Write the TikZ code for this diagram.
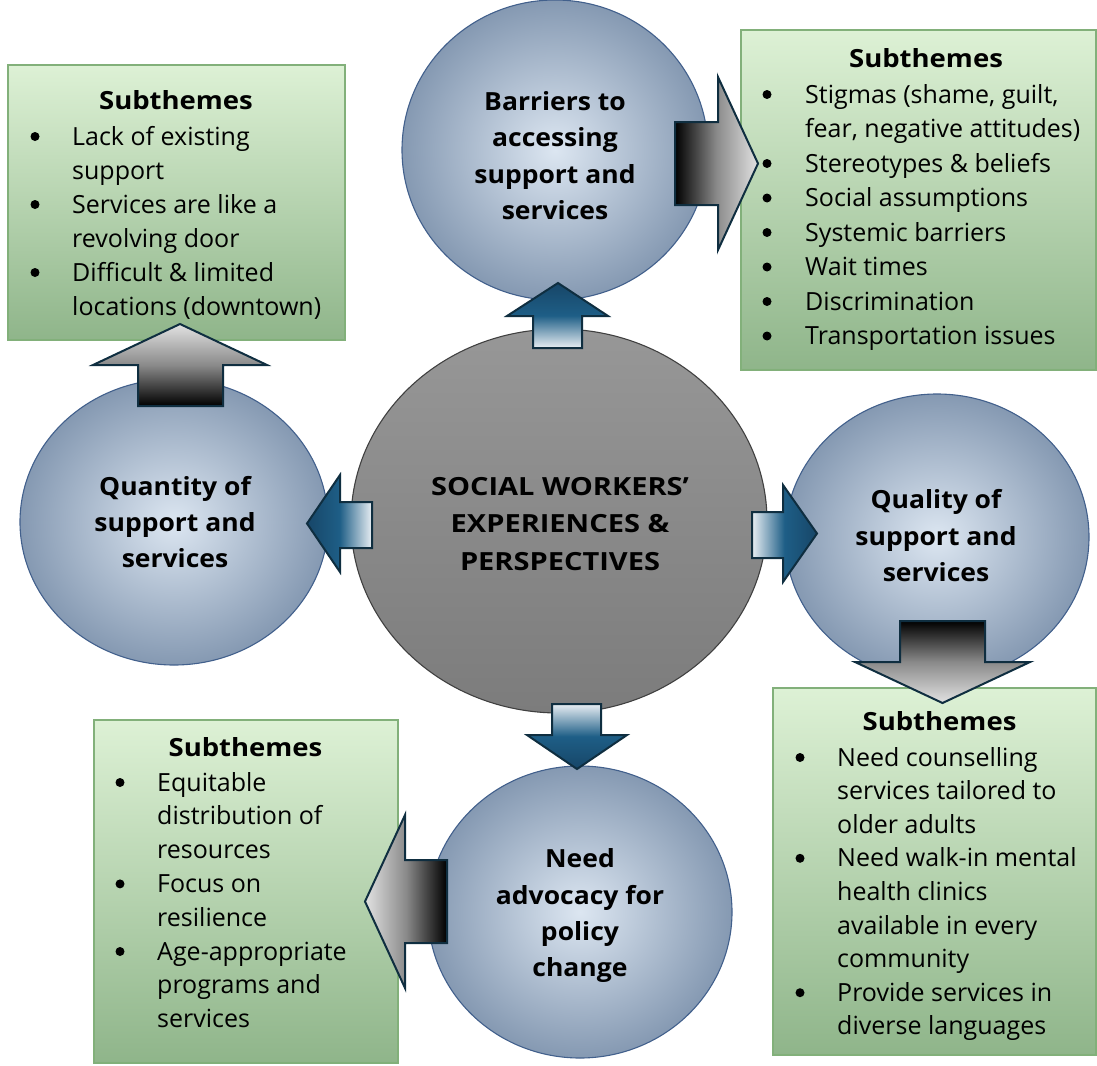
\documentclass[tikz,border=0pt]{standalone}
\usepackage{fontspec}
\setmainfont{Open Sans}
% slightly widened faces for the bold labels
\newfontfamily\headfont[FakeStretch=1.1]{Open Sans}
\newfontfamily\bubfont[FakeStretch=1.06]{Open Sans}
\newfontfamily\corefont[FakeStretch=1.16]{Open Sans}

% palette
\definecolor{boxtop}{HTML}{DDF1D5}
\definecolor{boxmid}{HTML}{C5DFBB}
\definecolor{boxbot}{HTML}{8FB58A}
\definecolor{boxline}{HTML}{82B07A}
\definecolor{bubin}{HTML}{DCE6F1}
\definecolor{bubout}{HTML}{8599B2}
\definecolor{bubline}{HTML}{42608C}
\definecolor{coretop}{HTML}{979797}
\definecolor{corebot}{HTML}{7C7C7C}
\definecolor{coreline}{HTML}{404040}
\definecolor{arrline}{HTML}{0F2E40}
\definecolor{bdark}{HTML}{174668}
\definecolor{bmid}{HTML}{1E5E86}
\definecolor{blight}{HTML}{E8EEF3}
\definecolor{glight}{HTML}{E2E2E2}
\definecolor{gmid}{HTML}{8A8A8A}

% block-arrow fills: dark end on the left, light end on the right
\pgfdeclarehorizontalshading{bluearrow}{100bp}{color(0bp)=(bdark); color(25bp)=(bdark); color(50bp)=(bmid); color(75bp)=(blight); color(100bp)=(blight)}
\pgfdeclarehorizontalshading{grayarrow}{100bp}{color(0bp)=(black); color(25bp)=(black); color(50bp)=(gmid); color(75bp)=(glight); color(100bp)=(glight)}

\newcommand\itemlines[4]{%
  \foreach \y/\b/\t [count=\i] in {#4} {
    \node[itemtext] (#1-\i) at (#3,\y) {\t};
    \ifnum\b=1 \node[bulletmark] (#1-m\i) at (#2,\y-8.5) {};\fi
  }}
\newcommand\centerlines[4]{%
  \foreach \y/\t [count=\i] in {#4} {
    \node[bubtext, font=#3] (#1-\i) at (#2,\y) {\t};
  }}

\begin{document}
\begin{tikzpicture}[x=1pt,y=-1pt,
  greenbox/.style={top color=boxtop, middle color=boxmid, bottom color=boxbot},
  bubble/.style={inner color=bubin, outer color=bubout, draw=bubline, line width=1.1pt},
  core/.style={top color=coretop, bottom color=corebot, draw=coreline, line width=1.1pt},
  bluearr/.style={shading=bluearrow, draw=arrline, line width=2pt, line join=miter},
  grayarr/.style={shading=grayarrow, draw=arrline, line width=2pt, line join=miter},
  itemtext/.style={font=\fontsize{25}{30}\selectfont, inner sep=0pt, anchor=base west},
  bulletmark/.style={circle, fill=black, inner sep=0pt, minimum size=9pt},
  headtext/.style={font=\fontsize{25}{30}\selectfont\headfont\bfseries, inner sep=0pt, anchor=base},
  bubtext/.style={inner sep=0pt, anchor=base}
]
\useasboundingbox (0,0) rectangle (1097,1065);

% subtheme panels
\shade[greenbox] (8,65) rectangle (345,340);
\shade[greenbox] (741,30) rectangle (1096,370);
\shade[greenbox] (773,688) rectangle (1096,1055);
\shade[greenbox] (94,720) rectangle (398,1063);
\draw[boxline, line width=1.5pt] (8,65) rectangle (345,340);
\draw[boxline, line width=1.5pt] (741,30) rectangle (1096,370);
\draw[boxline, line width=1.5pt] (773,688) rectangle (1096,1055);
\draw[boxline, line width=1.5pt] (94,720) rectangle (398,1063);

% theme bubbles
\shadedraw[bubble] (555,150) ellipse [x radius=153, y radius=150];
\shadedraw[bubble] (174,522) ellipse [x radius=154, y radius=143];
\shadedraw[bubble] (937,537) ellipse [x radius=152, y radius=143];
\shadedraw[bubble] (580,912) ellipse [x radius=152, y radius=146];
\shadedraw[core] (559,521) ellipse [x radius=208, y radius=192];

% arrows from the core to the themes
\shadedraw[bluearr, shading angle=-90] (533,348) -- (533,316) -- (507,316) -- (558,283) -- (608,316) -- (582,316) -- (582,348) -- cycle;
\shadedraw[bluearr, shading angle=0] (372,502) -- (340,502) -- (340,475) -- (307,523.5) -- (340,572) -- (340,548) -- (372,548) -- cycle;
\shadedraw[bluearr, shading angle=180] (752,512) -- (783,512) -- (783,485) -- (817,533.5) -- (783,582) -- (783,558) -- (752,558) -- cycle;
\shadedraw[bluearr, shading angle=90] (552,704) -- (601,704) -- (601,735) -- (627,735) -- (577,769) -- (527,735) -- (552,735) -- cycle;

% arrows from the themes to their subthemes
\shadedraw[grayarr, shading angle=0] (675,122) -- (718,122) -- (718,77) -- (758,163.5) -- (718,250) -- (718,205) -- (675,205) -- cycle;
\shadedraw[grayarr, shading angle=90] (138,406) -- (138,365) -- (93,365) -- (180,324) -- (267,365) -- (223,365) -- (223,406) -- cycle;
\shadedraw[grayarr, shading angle=-90] (900,621) -- (985,621) -- (985,662) -- (1030,662) -- (942.5,703) -- (855,662) -- (900,662) -- cycle;
\shadedraw[grayarr, shading angle=180] (447,860) -- (405,860) -- (405,815) -- (365,901.5) -- (405,988) -- (405,943) -- (447,943) -- cycle;

% bubble labels
\centerlines{top}{555}{\fontsize{25}{30}\selectfont\bubfont\bfseries}{110/Barriers to, 146.5/accessing, 183/support and, 219.5/services}
\centerlines{left}{175}{\fontsize{25}{30}\selectfont\bubfont\bfseries}{495/Quantity of, 531/support and, 567/services}
\centerlines{right}{936}{\fontsize{25}{30}\selectfont\bubfont\bfseries}{508/Quality of, 545/support and, 581/services}
\centerlines{bottom}{580}{\fontsize{25}{30}\selectfont\bubfont\bfseries}{867/Need, 904/advocacy for, 940/policy, 976/change}
\centerlines{core}{560}{\fontsize{25}{30}\selectfont\corefont\bfseries}{495/SOCIAL WORKERS’, 532.5/EXPERIENCES \&, 570/PERSPECTIVES}

% panel headings
\node[headtext] (tl-head) at (176,109) {Subthemes};
\node[headtext] (tr-head) at (926,67) {Subthemes};
\node[headtext] (br-head) at (939.5,730) {Subthemes};
\node[headtext] (bl-head) at (245.5,756) {Subthemes};

% panel items
\itemlines{tl}{35}{72}{145/1/Lack of existing, 179/0/support, 213/1/Services are like a, 247/0/revolving door, 281/1/Difficult \& limited, 315/0/locations (downtown)}
\itemlines{tr}{767}{805}{103/1/{Stigmas (shame, guilt,}, 137.5/0/{fear, negative attitudes)}, 172/1/Stereotypes \& beliefs, 206.5/1/Social assumptions, 241/1/Systemic barriers, 275.5/1/Wait times, 310/1/Discrimination, 344.5/1/Transportation issues}
\itemlines{br}{800}{837}{766/1/Need counselling, 799.6/0/services tailored to, 833.2/0/older adults, 866.8/1/Need walk-in mental, 900.4/0/health clinics, 934/0/available in every, 967.6/0/community, 1001.2/1/Provide services in, 1034.8/0/diverse languages}
\itemlines{bl}{120}{157}{791/1/Equitable, 824.8/0/distribution of, 858.6/0/resources, 892.4/1/Focus on, 926.2/0/resilience, 960/1/Age-appropriate, 993.8/0/programs and, 1027.6/0/services}
\end{tikzpicture}
\end{document}
